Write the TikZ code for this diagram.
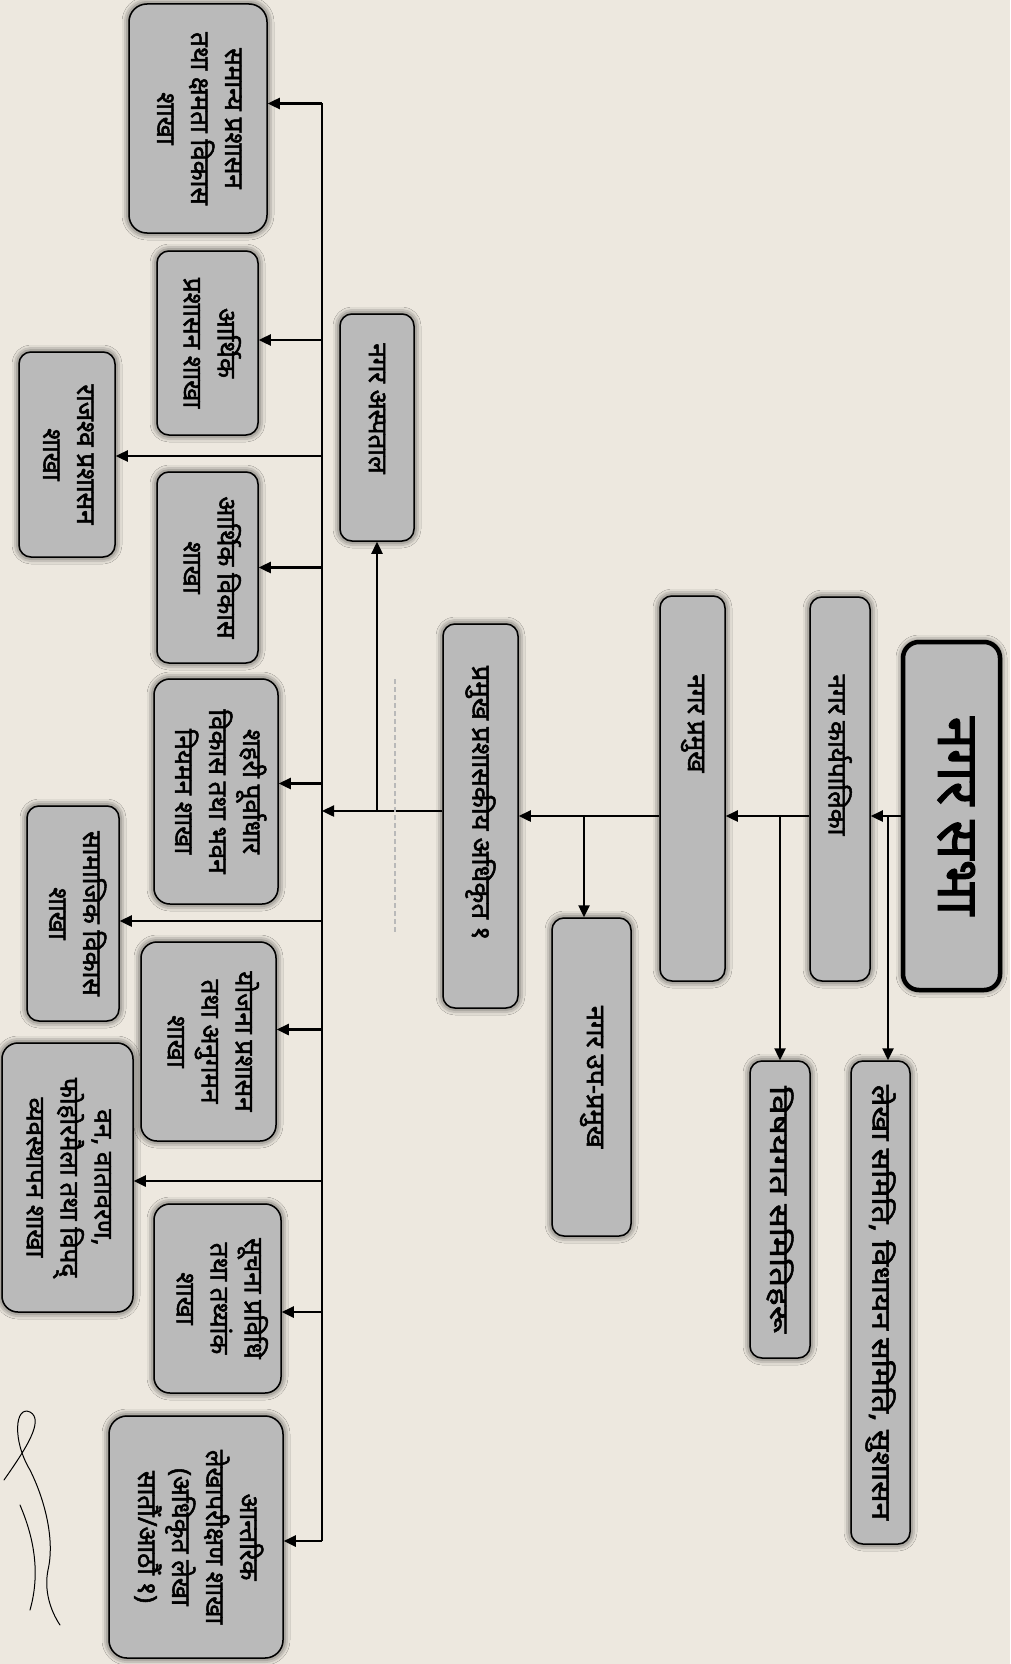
\documentclass[tikz,border=0pt]{standalone}
\usepackage{fontspec}
\usepackage{graphicx}
\usetikzlibrary{arrows.meta,shadows.blur}
\newfontfamily\dev[Script=Devanagari, FakeBold=2]{Noto Sans}
\definecolor{paper}{RGB}{237,232,223}
\definecolor{boxfill}{RGB}{186,186,186}
% \rt[size]{text}; \rtu{space after text (moves text up by half)}{horizontal scale}{text}
\newcommand\rt[2][26]{\rotatebox{-90}{\dev\fontsize{#1}{34}\selectfont\begin{tabular}{@{}c@{}}#2\end{tabular}}}
\newcommand\rtu[3]{\rotatebox{-90}{\dev\fontsize{26}{34}\selectfont\scalebox{#2}[1]{#3}\hspace*{#1}}}
\tikzset{
  box/.style={draw=black, line width=1.5pt, fill=boxfill, rounded corners=12pt, inner sep=0pt,
    blur shadow={shadow xshift=0pt, shadow yshift=0pt, shadow blur radius=7pt, shadow opacity=85}},
  arr/.style={line width=2.4pt, -{Triangle[length=12pt,width=11pt]}},
  ln/.style={line width=2.4pt}
}
\begin{document}
\begin{tikzpicture}[x=1pt,y=-1pt]
\fill[paper] (0,0) rectangle (1010,1664);
\useasboundingbox (0,0) rectangle (1010,1664);

% top chain
\node[box, line width=4.5pt, rounded corners=16pt, minimum width=97pt, minimum height=348pt] (sabha) at (951.5,816) {\rt[58]{नगर सभा}};
\node[box, minimum width=60pt, minimum height=384pt] (karya) at (840,789) {\rtu{68pt}{1}{नगर कार्यपालिका}};
\node[box, minimum width=59pt, minimum height=483pt] (lekha) at (880.5,1302.5) {\rtu{0pt}{1.22}{लेखा समिति, विधायन समिति, सुशासन}};
\node[box, minimum width=65pt, minimum height=385pt] (pramukh) at (692.5,788.5) {\rtu{130pt}{1}{नगर प्रमुख}};
\node[box, minimum width=60pt, minimum height=297pt] (vishay) at (780,1209.5) {\rtu{0pt}{1.35}{विषयगत समितिहरू}};
\node[box, minimum width=75pt, minimum height=384pt] (cao) at (480.5,816) {\rtu{26pt}{1.05}{प्रमुख प्रशासकीय अधिकृत १}};
\node[box, minimum width=79pt, minimum height=318pt] (upa) at (591.5,1077) {\rtu{0pt}{1.05}{नगर उप-प्रमुख}};
\node[box, minimum width=74pt, minimum height=227pt] (hosp) at (377,427.5) {\rtu{38pt}{1}{नगर अस्पताल}};

% branches
\node[box, rounded corners=18pt, minimum width=138pt, minimum height=229pt] (samanya) at (198,118.5) {\rt{समान्य प्रशासन\\तथा क्षमता विकास\\शाखा}};
\node[box, minimum width=101pt, minimum height=184pt] (arthpra) at (207.5,343) {\rt{आर्थिक\\प्रशासन शाखा}};
\node[box, minimum width=96pt, minimum height=205pt] (rajashwa) at (67,454.5) {\rt{राजश्व प्रशासन\\शाखा}};
\node[box, minimum width=101pt, minimum height=191pt] (arthvik) at (207.5,567.5) {\rt{आर्थिक विकास\\शाखा}};
\node[box, rounded corners=16pt, minimum width=124pt, minimum height=225pt] (shahari) at (216,791.5) {\rt{शहरी पूर्वाधार\\विकास तथा भवन\\नियमन शाखा}};
\node[box, minimum width=92pt, minimum height=215pt] (samajik) at (73,913.5) {\rt{सामाजिक विकास\\शाखा}};
\node[box, rounded corners=16pt, minimum width=135pt, minimum height=199pt] (yojana) at (208.5,1041.5) {\rt{योजना प्रशासन\\तथा अनुगमन\\शाखा}};
\node[box, rounded corners=16pt, minimum width=131pt, minimum height=269pt] (van) at (67.5,1177.5) {\rt{वन, वातावरण,\\फोहोरमैला तथा विपद्\\व्यवस्थापन शाखा}};
\node[box, rounded corners=16pt, minimum width=127pt, minimum height=189pt] (suchana) at (217.5,1298.5) {\rt{सूचना प्रविधि\\तथा तथ्यांक\\शाखा}};
\node[box, rounded corners=18pt, minimum width=174pt, minimum height=242pt] (antarik) at (196,1537) {\rt{आन्तरिक\\लेखापरीक्षण शाखा\\(अधिकृत लेखा\\सातौं/आठौं १)}};

% connector coordinates
\coordinate (j1) at (888,816);
\coordinate (j2) at (780,816);
\coordinate (j3) at (584,816);
\coordinate (busx) at (322,0);

\draw[arr] (sabha.west) -- (sabha.west -| karya.east);
\draw[arr] (j1) -- (j1 |- lekha.north);
\draw[arr] (karya.west |- sabha.west) -- (sabha.west -| pramukh.east);
\draw[arr] (j2) -- (j2 |- vishay.north);
\draw[arr] (pramukh.west |- sabha.west) -- (cao.east);
\draw[arr] (j3) -- (j3 |- upa.north);
\draw[arr] ([yshift=5pt]cao.west) -- ([yshift=5pt]cao.west -| busx);
\draw[arr] ([yshift=5pt]cao.west -| hosp.south) -- (hosp.south);

% bus
\draw[ln, line join=miter] ([yshift=15pt]samanya.east -| busx) -- ([yshift=-4pt]antarik.east -| busx);
\foreach \b/\d in {samanya/15,arthpra/3,rajashwa/-1.5,arthvik/0,shahari/8,samajik/-7.5,yojana/12,van/-3.5,suchana/-13.5,antarik/-4}
  \draw[arr] ([yshift=\d pt]\b.east -| busx) -- ([yshift=\d pt]\b.east);

% faint scan mark
\draw[gray!55, line width=1.5pt, dash pattern=on 5pt off 3pt] (395,679) -- (395,934);

% signature
\draw[line width=1pt, line cap=round] (4,1480) .. controls (25,1450) and (45,1420) .. (30,1412)
  .. controls (15,1405) and (12,1440) .. (30,1470) .. controls (45,1500) and (55,1540) .. (48,1570)
  .. controls (44,1590) and (50,1610) .. (60,1625);
\draw[line width=1pt, line cap=round] (20,1505) .. controls (35,1540) and (40,1575) .. (30,1610);
\end{tikzpicture}
\end{document}
